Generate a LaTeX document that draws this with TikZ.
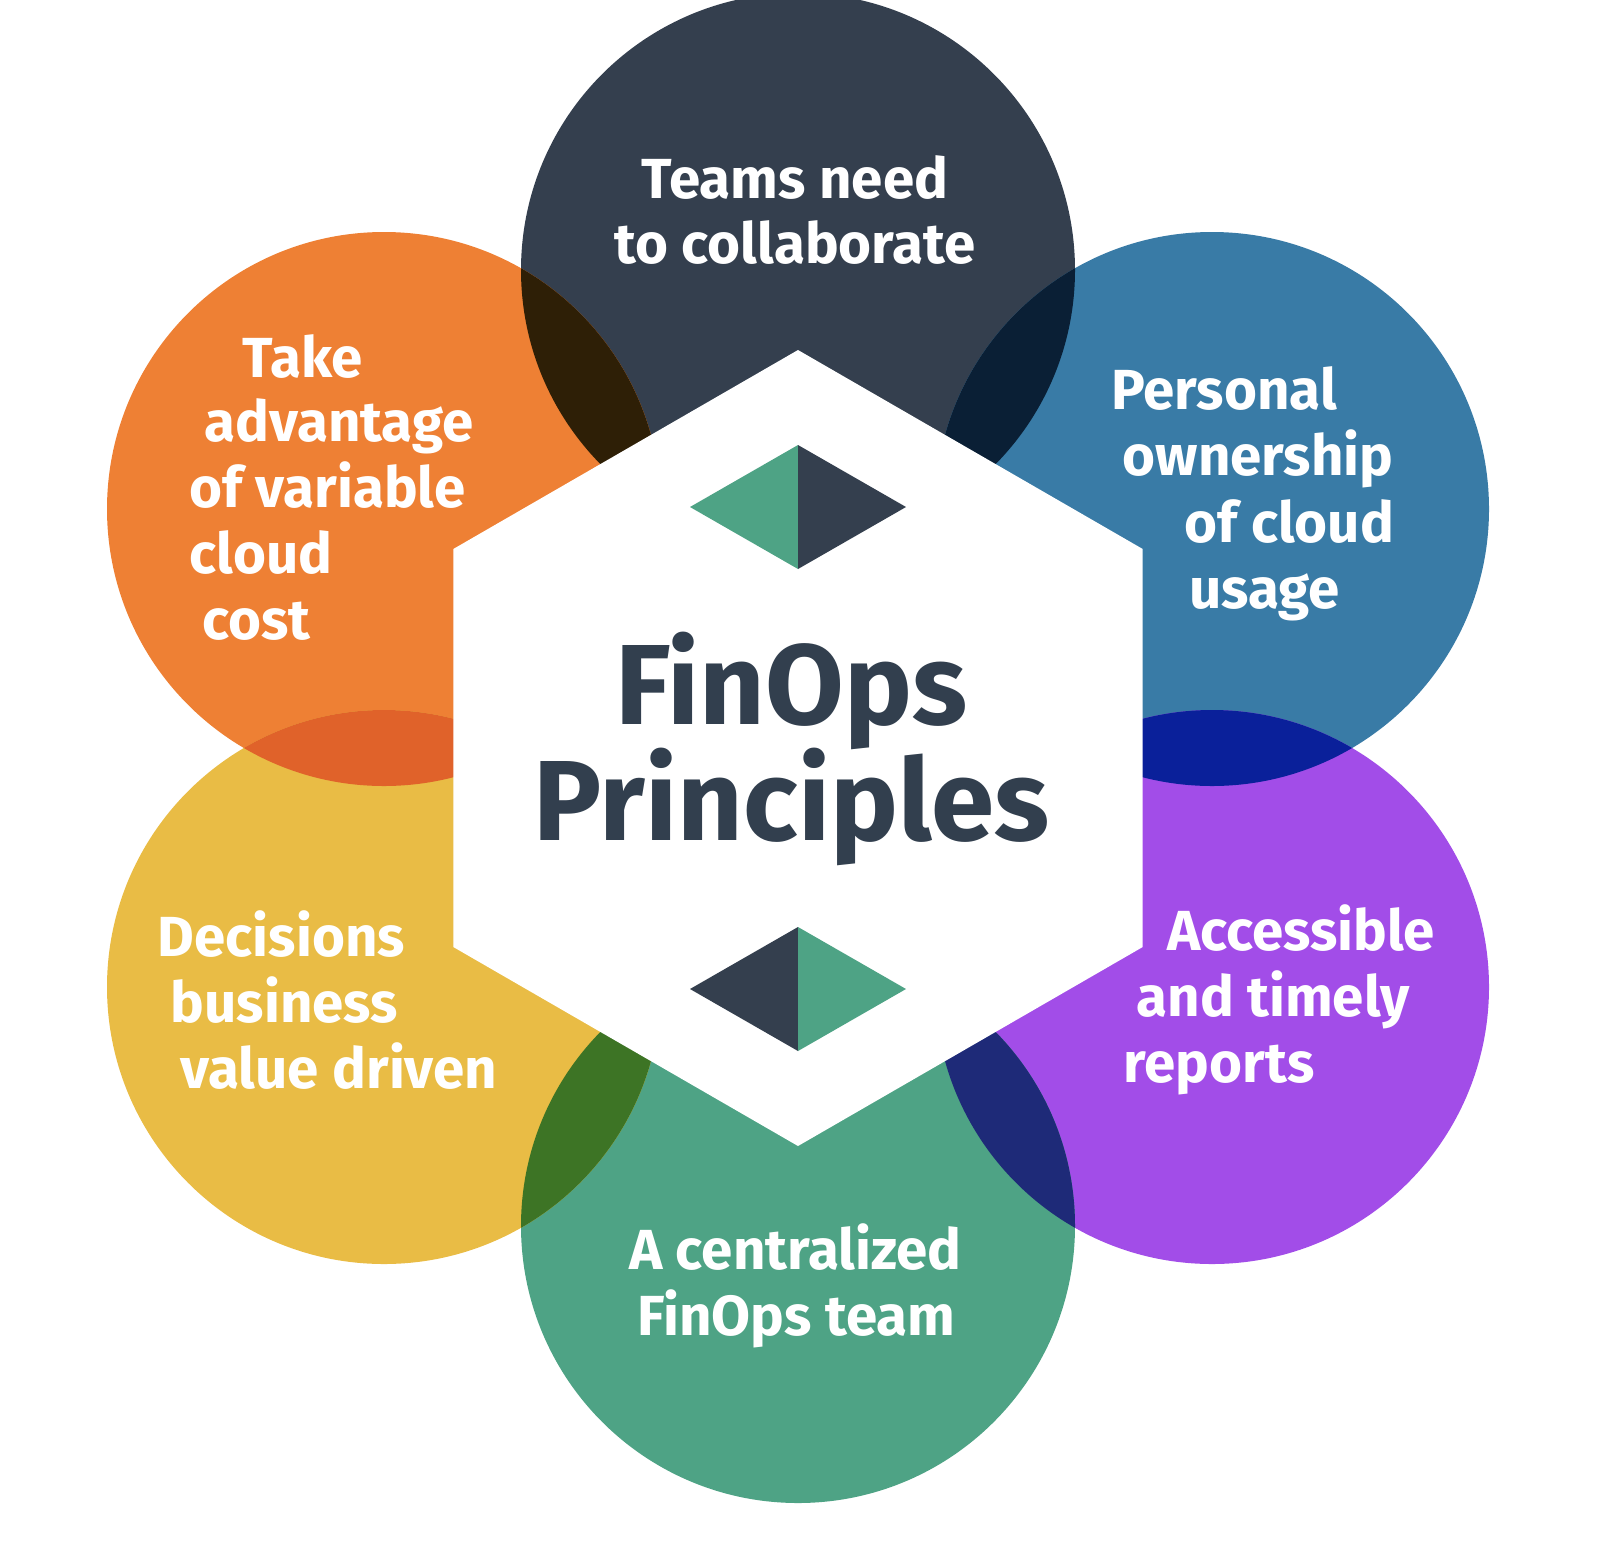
\documentclass[tikz,border=0pt]{standalone}
\usepackage{fontspec}
\setmainfont{Fira Sans}
\definecolor{cTop}{HTML}{343F4E}
\definecolor{cOrange}{HTML}{EE8034}
\definecolor{cBlue}{HTML}{397BA6}
\definecolor{cPurple}{HTML}{A24DE8}
\definecolor{cGreen}{HTML}{4EA385}
\definecolor{cYellow}{HTML}{E9BC45}
\definecolor{oTopOr}{HTML}{2E1F06}
\definecolor{oTopBl}{HTML}{0A1F35}
\definecolor{oBlPu}{HTML}{0A209A}
\definecolor{oPuGr}{HTML}{1E2A78}
\definecolor{oGrYe}{HTML}{3D7425}
\definecolor{oYeOr}{HTML}{E0622A}
\definecolor{cText}{HTML}{323F4E}
\tikzset{
  lbl/.style={text=white, font=\bfseries\fontsize{56.5}{56.5}\selectfont, inner sep=0pt, anchor=base},
  title/.style={text=cText, font=\bfseries\fontsize{114}{114}\selectfont, inner sep=0pt, anchor=base},
}
\begin{document}
\begin{tikzpicture}[x=1pt,y=-1pt]
\useasboundingbox (0,0) rectangle (1600,1540);
\coordinate (C) at (798,748);
\coordinate (pT) at (798,270);
\coordinate (pTR) at (1212,509);
\coordinate (pBR) at (1212,987);
\coordinate (pB) at (798,1226);
\coordinate (pBL) at (384,987);
\coordinate (pTL) at (384,509);
% circles
\fill[cTop] (pT) circle[radius=277pt];
\fill[cOrange] (pTL) circle[radius=277pt];
\fill[cBlue] (pTR) circle[radius=277pt];
\fill[cPurple] (pBR) circle[radius=277pt];
\fill[cGreen] (pB) circle[radius=277pt];
\fill[cYellow] (pBL) circle[radius=277pt];
% overlaps
\begin{scope}\clip (pT) circle[radius=277pt]; \fill[oTopOr] (pTL) circle[radius=277pt];\end{scope}
\begin{scope}\clip (pT) circle[radius=277pt]; \fill[oTopBl] (pTR) circle[radius=277pt];\end{scope}
\begin{scope}\clip (pTR) circle[radius=277pt]; \fill[oBlPu] (pBR) circle[radius=277pt];\end{scope}
\begin{scope}\clip (pBR) circle[radius=277pt]; \fill[oPuGr] (pB) circle[radius=277pt];\end{scope}
\begin{scope}\clip (pB) circle[radius=277pt]; \fill[oGrYe] (pBL) circle[radius=277pt];\end{scope}
\begin{scope}\clip (pBL) circle[radius=277pt]; \fill[oYeOr] (pTL) circle[radius=277pt];\end{scope}
% hexagon
\fill[white] (798,350) -- (1142.7,549) -- (1142.7,947) -- (798,1146) -- (453.3,947) -- (453.3,549) -- cycle;
% diamonds
\fill[cGreen] (690,507) -- (798,445) -- (798,569) -- cycle;
\fill[cTop] (798,445) -- (906,507) -- (798,569) -- cycle;
\fill[cTop] (690,989) -- (798,927) -- (798,1051) -- cycle;
\fill[cGreen] (798,927) -- (906,989) -- (798,1051) -- cycle;
% title
\node[title] (t1) at (791.5,724) {FinOps};
\node[title] (t2) at (791.5,840) {Principles};
% top
\node[lbl] (a1) at (795,198) {Teams need};
\node[lbl] (a2) at (795,263) {to collaborate};
% top left
\node[lbl] (b1) at (302.5,377) {Take};
\node[lbl] (b2) at (339,441) {advantage};
\node[lbl] (b3) at (327.5,507) {of variable};
\node[lbl] (b4) at (261,573) {cloud};
\node[lbl] (b5) at (256.5,639) {cost};
% top right
\node[lbl] (c1) at (1224,409) {Personal};
\node[lbl] (c2) at (1258,475) {ownership};
\node[lbl] (c3) at (1289.5,542) {of cloud};
\node[lbl] (c4) at (1264.5,608) {usage};
% bottom right
\node[lbl] (d1) at (1301,950) {Accessible};
\node[lbl] (d2) at (1273,1016) {and timely};
\node[lbl] (d3) at (1219,1082) {reports};
% bottom left
\node[lbl] (e1) at (281.5,956) {Decisions};
\node[lbl] (e2) at (284.5,1022) {business};
\node[lbl] (e3) at (339,1088) {value driven};
% bottom
\node[lbl] (f1) at (795.5,1269) {A centralized};
\node[lbl] (f2) at (796.5,1335) {FinOps team};
\end{tikzpicture}
\end{document}
